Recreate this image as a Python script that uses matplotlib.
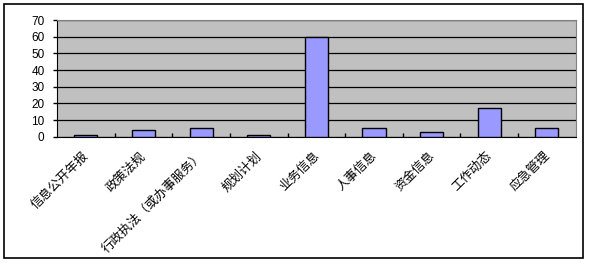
import matplotlib
matplotlib.use("Agg")
import matplotlib.pyplot as plt
from matplotlib.patches import Rectangle
from matplotlib.transforms import ScaledTranslation
import numpy as np

plt.rcParams['font.family'] = ['Noto Sans CJK SC', 'DejaVu Sans']

categories = ['信息公开年报', '政策法规', '行政执法（或办事服务）', '规划计划', '业务信息',
              '人事信息', '资金信息', '工作动态', '应急管理']
values = [1, 4, 5, 1, 60, 5, 3, 17, 5]
yticks = [0, 10, 20, 30, 40, 50, 60, 70]

fig = plt.figure(figsize=(5.89, 2.64), dpi=100)
ax = fig.add_axes([0.0968, 0.4822, 0.8806, 0.442])

x = np.arange(len(categories))
ax.set_facecolor('#C0C0C0')
ax.set_axisbelow(True)
ax.grid(axis='y', color='black', linewidth=0.9)
ax.bar(x, values, width=0.4, color='#9999FF', edgecolor='black', linewidth=1, zorder=3)

ax.set_xlim(-0.5, len(categories) - 0.5)
ax.set_ylim(0, 70)
ax.set_yticks(yticks)
ax.set_yticklabels([str(v) for v in yticks], family='Liberation Sans', fontsize=8.5)
ax.tick_params(axis='y', direction='out', length=3, width=1, pad=6)

ax.set_xticks(x)
ax.set_xticklabels(categories, rotation=45, ha='right', rotation_mode='anchor', fontsize=9)
ax.tick_params(axis='x', which='major', length=0, pad=9)
shift = ScaledTranslation(-4 / 100, 0, fig.dpi_scale_trans)
for lab in ax.get_xticklabels():
    lab.set_transform(lab.get_transform() + shift)
ax.set_xticks(np.arange(0.5, len(categories) - 0.5, 1), minor=True)
ax.tick_params(axis='x', which='minor', direction='in', length=3, width=1)

ax.spines['left'].set_color('black')
ax.spines['bottom'].set_color('black')
ax.spines['top'].set_color('#808080')
ax.spines['right'].set_color('#808080')

# outer chart border
fig.patches.append(Rectangle((4 / 589, 6 / 264), 579 / 589, 254 / 264, transform=fig.transFigure,
                             fill=False, edgecolor='black', linewidth=1.2))

fig.savefig('out.png', dpi=100)
